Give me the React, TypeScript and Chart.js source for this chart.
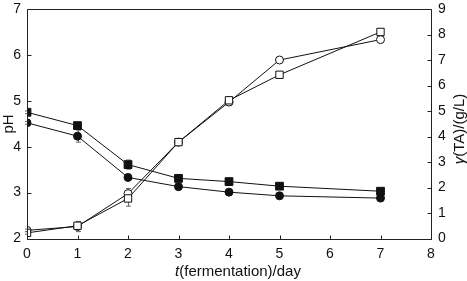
import React, { useEffect, useRef } from "react";
import { Chart, registerables } from "chart.js";

Chart.register(...registerables);

const days = [0, 1, 2, 3, 4, 5, 7];
const pHSquare = [4.75, 4.46, 3.61, 3.31, 3.24, 3.14, 3.03];
const pHCircle = [4.52, 4.23, 3.33, 3.13, 3.01, 2.93, 2.88];
const taSquare = [0.22, 0.5, 1.57, 3.78, 5.42, 6.42, 8.1];
const taCircle = [0.32, 0.47, 1.76, 3.78, 5.35, 7.0, 7.8];

const pHSquareErr = [0.03, 0.04, 0.1, 0.03, 0.03, 0.02, 0.02];
const pHCircleErr = [0.03, 0.13, 0.06, 0.03, 0.02, 0.02, 0.02];
const taSquareErr = [0.05, 0.15, 0.3, 0.05, 0.05, 0.05, 0.05];
const taCircleErr = [0.05, 0.2, 0.2, 0.05, 0.05, 0.05, 0.05];

const xTickValues = [0, 1, 2, 3, 4, 5, 6, 7, 8];
const xTitleItalic = "t";
const xTitleRest = "(fermentation)/day";
const yTitle = "pH";
const y1TitleItalic = "γ";
const y1TitleRest = "(TA)/(g/L)";

const FONT = '"Liberation Sans", Arial, sans-serif';

const decorPlugin = {
  id: "decor",
  beforeDatasetsDraw(chart: any) {
    const ctx = chart.ctx;
    const xs = chart.scales.x;
    ctx.save();
    ctx.strokeStyle = "#666";
    ctx.lineWidth = 1;
    chart.data.datasets.forEach((ds: any) => {
      const ys = chart.scales[ds.yAxisID];
      const errs = ds.errors as number[];
      ds.data.forEach((p: any, i: number) => {
        const e = errs[i];
        if (!e) return;
        const px = Math.round(xs.getPixelForValue(p.x)) + 0.5;
        const t = ys.getPixelForValue(p.y + e);
        const b = ys.getPixelForValue(p.y - e);
        ctx.beginPath();
        ctx.moveTo(px, t);
        ctx.lineTo(px, b);
        ctx.moveTo(px - 2.5, t);
        ctx.lineTo(px + 2.5, t);
        ctx.moveTo(px - 2.5, b);
        ctx.lineTo(px + 2.5, b);
        ctx.stroke();
      });
    });
    ctx.restore();
  },
  afterDraw(chart: any) {
    const ctx = chart.ctx;
    const a = chart.chartArea;
    const xs = chart.scales.x;
    const yl = chart.scales.y;
    const yr = chart.scales.y1;
    ctx.save();
    ctx.strokeStyle = "#222";
    ctx.lineWidth = 1;
    const L = Math.round(a.left) + 0.5;
    const R = Math.round(a.right) + 0.5;
    const T = Math.round(a.top) + 0.5;
    const B = Math.round(a.bottom) + 0.5;
    ctx.beginPath();
    ctx.rect(L, T, R - L, B - T);
    ctx.stroke();
    const tl = 4;
    ctx.beginPath();
    xs.ticks.forEach((t: any) => {
      const px = Math.round(xs.getPixelForValue(t.value)) + 0.5;
      ctx.moveTo(px, B);
      ctx.lineTo(px, B - tl);
    });
    yl.ticks.forEach((t: any) => {
      const py = Math.round(yl.getPixelForValue(t.value)) + 0.5;
      ctx.moveTo(L, py);
      ctx.lineTo(L + tl, py);
    });
    yr.ticks.forEach((t: any) => {
      const py = Math.round(yr.getPixelForValue(t.value)) + 0.5;
      ctx.moveTo(R, py);
      ctx.lineTo(R - tl, py);
    });
    ctx.stroke();

    ctx.fillStyle = "#111";
    ctx.textBaseline = "middle";
    const drawMixed = (italic: string, rest: string, cx: number, cy: number, rot: number) => {
      ctx.save();
      ctx.translate(cx, cy);
      ctx.rotate(rot);
      ctx.font = `italic 15px ${FONT}`;
      const w1 = ctx.measureText(italic).width;
      ctx.font = `15px ${FONT}`;
      const w2 = ctx.measureText(rest).width;
      const start = -(w1 + w2) / 2;
      ctx.textAlign = "left";
      ctx.font = `italic 15px ${FONT}`;
      ctx.fillText(italic, start, 0);
      ctx.font = `15px ${FONT}`;
      ctx.fillText(rest, start + w1, 0);
      ctx.restore();
    };
    drawMixed(xTitleItalic, xTitleRest, 238, 272, 0);
    drawMixed("", yTitle, 9, 124, -Math.PI / 2);
    drawMixed(y1TitleItalic, y1TitleRest, 460, 129, -Math.PI / 2);
    ctx.restore();
  },
};

export default function App() {
  const ref = useRef<HTMLCanvasElement>(null);
  useEffect(() => {
    document.body.style.margin = "0";
    const mk = (arr: number[]) => days.map((d, i) => ({ x: d, y: arr[i] }));
    const base = {
      borderColor: "#111",
      borderWidth: 1,
      pointBorderColor: "#111",
      pointBorderWidth: 1,
      showLine: true,
      tension: 0,
    };
    const chart = new Chart(ref.current!, {
      type: "scatter",
      data: {
        datasets: [
          { ...base, label: "pH-square", data: mk(pHSquare), yAxisID: "y", pointStyle: "rect", pointRadius: 5.5, pointBackgroundColor: "#111", errors: pHSquareErr } as any,
          { ...base, label: "pH-circle", data: mk(pHCircle), yAxisID: "y", pointStyle: "circle", pointRadius: 4, pointBackgroundColor: "#111", errors: pHCircleErr } as any,
          { ...base, label: "TA-square", data: mk(taSquare), yAxisID: "y1", pointStyle: "rect", pointRadius: 5.2, pointBackgroundColor: "#fff", errors: taSquareErr } as any,
          { ...base, label: "TA-circle", data: mk(taCircle), yAxisID: "y1", pointStyle: "circle", pointRadius: 4, pointBackgroundColor: "#fff", errors: taCircleErr } as any,
        ],
      },
      options: {
        animation: false,
        responsive: false,
        maintainAspectRatio: false,
        layout: { padding: { top: 9, left: 0, right: 0, bottom: 0 } },
        plugins: { legend: { display: false }, tooltip: { enabled: false } },
        scales: {
          x: {
            type: "linear",
            min: 0,
            max: 8,
            afterBuildTicks: (s: any) => {
              s.ticks = xTickValues.map((v) => ({ value: v }));
            },
            ticks: { font: { size: 14, family: FONT }, color: "#111", padding: 7 },
            grid: { display: false, drawTicks: false },
            border: { display: false },
            afterFit: (s: any) => {
              s.height = 42.5;
              s.paddingLeft = 0;
              s.paddingRight = 0;
            },
          },
          y: {
            position: "left",
            min: 2,
            max: 7,
            ticks: { stepSize: 1, font: { size: 14, family: FONT }, color: "#111", padding: 6 },
            grid: { display: false, drawTicks: false },
            border: { display: false },
            afterFit: (s: any) => {
              s.width = 27;
              s.paddingTop = 0;
              s.paddingBottom = 0;
            },
          },
          y1: {
            position: "right",
            min: 0,
            max: 9,
            ticks: { stepSize: 1, font: { size: 14, family: FONT }, color: "#111", padding: 7 },
            grid: { display: false, drawTicks: false },
            border: { display: false },
            afterFit: (s: any) => {
              s.width = 36;
              s.paddingTop = 0;
              s.paddingBottom = 0;
            },
          },
        },
      } as any,
      plugins: [decorPlugin],
    });
    return () => chart.destroy();
  }, []);
  return (
    <div style={{ width: 467, height: 281 }}>
      <canvas ref={ref} width={467} height={281} />
    </div>
  );
}
